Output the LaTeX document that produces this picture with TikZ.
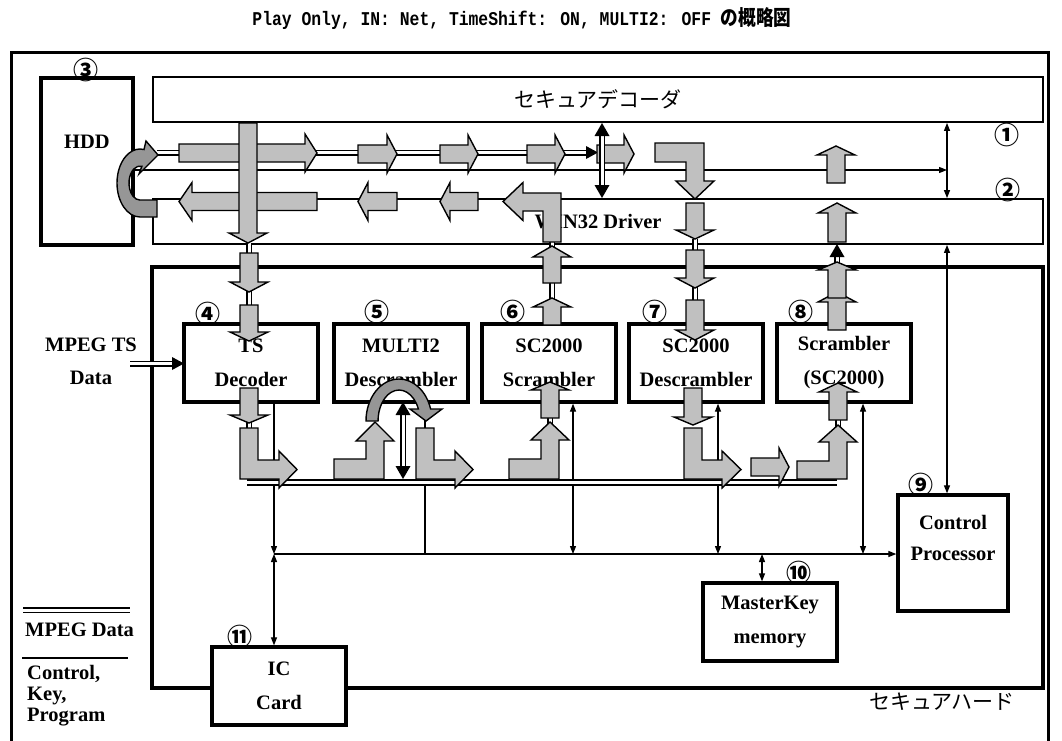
\documentclass[tikz,border=0pt]{standalone}
\usepackage{graphicx}
\usepackage{fontspec}
\setmainfont{Liberation Serif}
\newfontfamily\cjk{Noto Sans CJK JP}
\newfontfamily\monof{Liberation Mono}
\usetikzlibrary{arrows.meta,calc}
\definecolor{agray}{HTML}{C0C0C0}
\definecolor{cgray}{HTML}{969696}
\newcommand\lbf{\bfseries\fontsize{20.5}{34}\selectfont}
\newcommand\numf{\cjk\bfseries\fontsize{25}{25}\selectfont}
\newcommand\jpf{\cjk\fontsize{21}{21}\selectfont}
% vertical block arrow: x, tail y, head-base y, tip y
\newcommand\varr[4]{\filldraw[garr] ({#1-9},#2) -- ({#1-9},#3) -- ({#1-19},#3) -- (#1,#4) -- ({#1+19},#3) -- ({#1+9},#3) -- ({#1+9},#2) -- cycle;}
% horizontal block arrow: y, tail x, head-base x, tip x
\newcommand\harr[4]{\filldraw[garr] (#2,{#1-9}) -- (#3,{#1-9}) -- (#3,{#1-19}) -- (#4,#1) -- (#3,{#1+19}) -- (#3,{#1+9}) -- (#2,{#1+9}) -- cycle;}
% black heads
\newcommand\bhu[2]{\fill (#1,#2) -- ({#1-7.5},{#2+13}) -- ({#1+7.5},{#2+13}) -- cycle;}
\newcommand\bhd[2]{\fill (#1,#2) -- ({#1-7.5},{#2-13}) -- ({#1+7.5},{#2-13}) -- cycle;}
\newcommand\bhr[2]{\fill (#1,#2) -- ({#1-12},{#2-6.5}) -- ({#1-12},{#2+6.5}) -- cycle;}
\begin{document}
\begin{tikzpicture}[x=1pt,y=-1pt,
 garr/.style={fill=agray, draw=black, line width=1.4pt},
 carr/.style={fill=cgray, draw=black, line width=1.4pt},
 mpeg/.style={draw=black, double=white, line width=1.5pt, double distance=3pt},
 ctl/.style={line width=1.2pt},
 tipa/.style={-{Triangle[length=8pt,width=6pt]}},
 tipb/.style={{Triangle[length=8pt,width=6pt]}-{Triangle[length=8pt,width=6pt]}},
 bbox/.style={draw, line width=3.3pt, fill=white, minimum width=134pt, minimum height=78pt, inner sep=0pt, align=center, font=\lbf},
 wbox/.style={draw, line width=1.8pt, minimum width=890pt, minimum height=45pt, inner sep=0pt},
 lbl/.style={inner sep=0pt, align=center, font=\lbf},
 num/.style={inner sep=0pt, font=\numf},
 jp/.style={inner sep=0pt, font=\jpf}]
\useasboundingbox (0,0) rectangle (1062,740);

% title
\node[inner sep=0pt] (title) at (522,19) {\scalebox{0.84}[1]{\monof\bfseries\fontsize{19.5}{19.5}\selectfont Play Only, IN: Net, TimeShift: ON, MULTI2: OFF {\cjk\bfseries\fontsize{21}{21}\selectfont の概略図}}};

% outer frame
\draw[line width=3pt] (11,745) -- (11,52) -- (1048,52) -- (1048,745);

% decoder / driver
\node[wbox, font=\jpf] (dec) at (598,99.5) {セキュアデコーダ};
\node[wbox, font=\lbf] (drv) at (598,221.5) {WIN32 Driver};

% HDD
\node[draw, line width=3.3pt, minimum width=92pt, minimum height=167pt, inner sep=0pt] (hdd) at (87,161.5) {};
\node[lbl] (hddt) at (87,142) {HDD};

% secure hard frame
\node[draw, line width=3.3pt, minimum width=891pt, minimum height=421pt, inner sep=0pt] (sh) at (597.5,477.5) {};
\node[jp] (sht) at (942,702) {セキュアハード};

% blocks
\node[bbox] (tsd) at (251,363) {TS\\Decoder};
\node[bbox] (m2) at (401,363) {MULTI2\\Descrambler};
\node[bbox] (scs) at (549,363) {SC2000\\Scrambler};
\node[bbox] (scd) at (696,363) {SC2000\\Descrambler};
\node[bbox] (scr) at (844,363) {Scrambler\\(SC2000)};
\node[bbox, minimum width=110pt, minimum height=116pt] (cp) at (953,553) {};
\node[lbl, font=\bfseries\fontsize{20.5}{31}\selectfont] (cpt) at (953,538) {Control\\Processor};
\node[bbox] (mk) at (770,622) {MasterKey\\memory};
\node[bbox] (ic) at (279,686) {IC\\Card};

% numbers
\node[num] (n1) at (1007,135) {①};
\node[num] (n2) at (1008,190) {②};
\node[num] (n3) at (86,70) {③};
\node[num] (n4) at (208,314) {④};
\node[num] (n5) at (377,312) {⑤};
\node[num] (n6) at (513,312) {⑥};
\node[num] (n7) at (655,312) {⑦};
\node[num] (n8) at (801,312) {⑧};
\node[num] (n9) at (921,485) {⑨};
\node[num] (n10) at (799,573) {⑩};
\node[num] (n11) at (240,637) {⑪};

% legend
\draw[mpeg] (23,610) -- (130,610);
\node[lbl, anchor=west] (lg1) at (25,630) {MPEG Data};
\draw[ctl] (22,658) -- (128,658);
\node[lbl, anchor=west, align=left, font=\bfseries\fontsize{20.5}{21}\selectfont] (lg2) at (27,696) {Control,\\Key,\\Program};

% MPEG TS input
\node[lbl, font=\bfseries\fontsize{20.5}{33}\selectfont] (mts) at (91,361) {MPEG TS\\Data};
\coordinate (min) at (130,363.5);
\draw[mpeg] (min) -- (173,363.5);
\bhr{184}{363.5}

% control lines
\coordinate (b1) at (947,170);
\draw[ctl,tipa] (hdd.east |- b1) -- (b1);
\draw[ctl,tipb] (b1 |- dec.south) -- (b1 |- drv.north);
\draw[ctl,tipb] (b1 |- drv.south) -- (b1 |- cp.north);
\coordinate (jn) at (274,554);
\draw[ctl,tipa] (jn |- tsd.south) -- (jn);
\draw[ctl,tipb] (jn) -- (jn |- ic.north);
\draw[ctl,tipa] (jn) -- (jn -| cp.west);
\coordinate (c0) at (425,554);
\draw[ctl] (c0 |- m2.south) -- (c0);
\coordinate (c1) at (573,554);
\draw[ctl,tipb] (c1 |- scs.south) -- (c1);
\coordinate (c2) at (718,554);
\draw[ctl,tipb] (c2 |- scd.south) -- (c2);
\coordinate (c3) at (863,554);
\draw[ctl,tipb] (c3 |- scr.south) -- (c3);
\coordinate (c4) at (762,554);
\draw[ctl,tipb] (c4) -- (c4 |- mk.north);

% MPEG double lines
\draw[mpeg] (157,152.5) -- (588,152.5);
\bhr{598}{152.5}
\draw[mpeg, line width=1.8pt, double distance=3.4pt] (247,482.5) -- (837,482.5);
\draw[mpeg] (249,243) -- (249,305);
\draw[mpeg] (249,420) -- (249,430);
\draw[mpeg] (552,240) -- (552,300);
\draw[mpeg] (695,239) -- (695,300);
\draw[mpeg] (837,256) -- (837,266);
\draw[mpeg] (550,416) -- (550,424);
\draw[mpeg] (838,418) -- (838,427);

% top row arrows (to the right)
\harr{153}{179}{305}{317}
\harr{154}{358}{387}{397}
\harr{154}{440}{468}{478}
\harr{154}{527}{555}{565}
\harr{154}{597}{624}{634}
% lower row arrows (to the left)
\harr{201.5}{317}{192}{179}
\harr{201.5}{397}{368}{358}
\harr{201.5}{478}{450}{440}
\filldraw[garr] (543,242) -- (543,211) -- (523,211) -- (523,220.5) -- (503,201.5) -- (523,182.5) -- (523,193) -- (561,193) -- (561,242) -- cycle;
% HDD loop arrow
\filldraw[carr] (157,217) -- (140,217) arc[start angle=90,end angle=280,x radius=23,y radius=34] -- (146,141) -- (158,155) -- (139,174) -- (141.9,166.3) arc[start angle=280,end angle=90,x radius=11,y radius=17] -- (157,200) -- cycle;
% TS decoder column
\varr{248}{123}{233}{243}
\varr{249}{253}{282}{292}
\varr{249}{305}{332}{341}
% descrambler column
\filldraw[garr] (655,143) -- (704,143) -- (704,181) -- (714,181) -- (695,199) -- (676,181) -- (686,181) -- (686,162) -- (655,162) -- cycle;
\varr{695}{203}{230}{239}
\varr{695}{250}{278}{288}
\varr{695}{300}{330}{340}
% scrambler column
\varr{552}{325}{307}{298}
\varr{552}{283}{257}{246}
% scrambler (SC2000) column
\varr{837}{330}{302}{292}
\varr{837}{298}{270}{262}
\bhu{837}{244}
\varr{837}{242}{213}{203}
\varr{836}{183}{155}{146}

% bottom area
\varr{249}{388}{415}{423}
\filldraw[garr] (240,428) -- (258,428) -- (258,460) -- (279,460) -- (279,451) -- (297,469.5) -- (279,488) -- (279,479) -- (240,479) -- cycle;
\filldraw[garr] (334,479) -- (334,459) -- (366,459) -- (366,441) -- (356,441) -- (375,422) -- (394,441) -- (384,441) -- (384,479) -- cycle;
\filldraw[carr] (366,421) arc[start angle=180,end angle=343.4,x radius=33,y radius=42] -- (442,409) -- (426,421) -- (410,409) -- (418.4,409) arc[start angle=337.2,end angle=180,x radius=21,y radius=31] -- cycle;
\filldraw[garr] (416,428) -- (434,428) -- (434,460) -- (455,460) -- (455,451) -- (473,469.5) -- (455,488) -- (455,479) -- (416,479) -- cycle;
\varr{550}{418}{390}{382}
\filldraw[garr] (509,479) -- (509,459) -- (541,459) -- (541,440) -- (531,440) -- (550,422) -- (569,440) -- (559,440) -- (559,479) -- cycle;
\varr{693}{388}{417}{425}
\filldraw[garr] (684,428) -- (702,428) -- (702,460) -- (722,460) -- (722,451) -- (741,469.5) -- (722,488) -- (722,479) -- (684,479) -- cycle;
\harr{467}{751}{779}{789}
\filldraw[garr] (797,479) -- (797,461) -- (829,461) -- (829,442) -- (819,442) -- (838,425) -- (857,442) -- (847,442) -- (847,479) -- cycle;
\varr{838}{420}{392}{383}

% double-line double arrows
\draw[mpeg] (602,134) -- (602,187);
\bhu{602}{123}
\bhd{602}{198}
\draw[mpeg] (403,413) -- (403,468);
\bhu{403}{402}
\bhd{403}{479}
\end{tikzpicture}
\end{document}
